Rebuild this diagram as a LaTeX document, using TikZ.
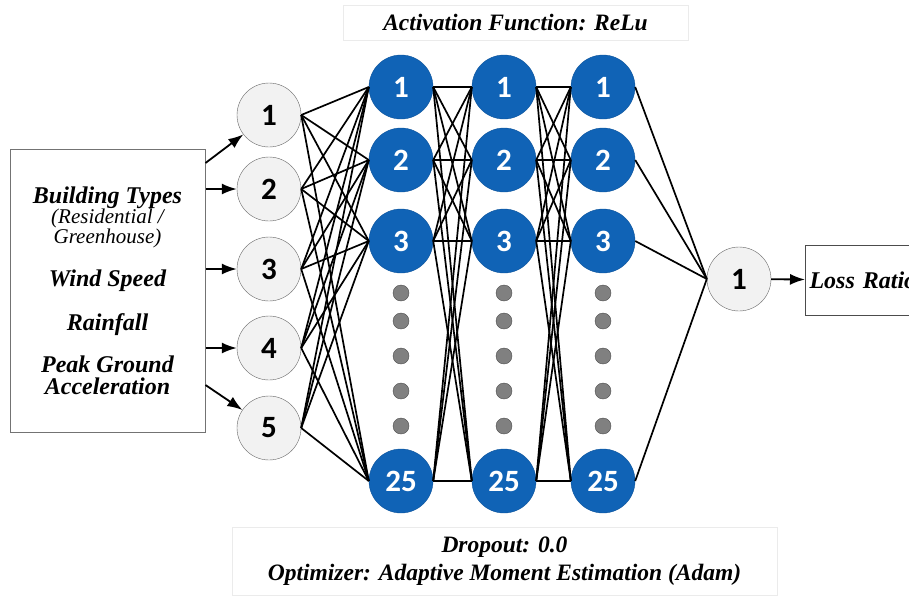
\documentclass[tikz,border=0pt]{standalone}
\usepackage{fontspec}
\setmainfont{Liberation Serif}
\newfontfamily\numfont{Carlito}
\usetikzlibrary{arrows.meta}
\definecolor{nnblue}{RGB}{16,99,182}
\definecolor{nnlight}{RGB}{242,242,242}
\definecolor{nndot}{RGB}{128,128,128}

\begin{document}
\begin{tikzpicture}[x=1pt,y=-1pt,>={Latex[length=15pt,width=11pt]},
  innode/.style={shape=circle,draw=black!60,fill=nnlight,minimum size=64pt,inner sep=0pt,
    font=\numfont\bfseries\fontsize{31}{31}\selectfont},
  hidnode/.style={shape=circle,draw=nnblue!85!black,fill=nnblue,text=white,minimum size=64pt,
    inner sep=0pt,font=\numfont\bfseries\fontsize{31}{31}\selectfont},
  gapdot/.style={shape=circle,draw=black!70,fill=nndot,minimum size=16pt,inner sep=0pt},
  txtbox/.style={draw=black!8,align=center,inner sep=0pt,
    font=\bfseries\itshape\fontsize{23.5}{23}\selectfont},
  link/.style={line width=1.7pt},
  feed/.style={->,line width=1.8pt}]
\useasboundingbox (0,0) rectangle (909,595);

% boxes
\node (inbox) at (107.5,290.5) [draw=black!55,line width=1pt,minimum width=195pt,minimum height=283pt,
  align=center,inner sep=0pt,font=\bfseries\itshape\fontsize{24}{22}\selectfont]
  {Building Types\\[-2pt]{\mdseries\fontsize{21}{22}\selectfont (Residential /}\\[-2pt]%
   {\mdseries\fontsize{21}{22}\selectfont Greenhouse)}\\[21pt]Wind Speed\\[21pt]Rainfall\\[20pt]%
   Peak Ground\\[0pt]Acceleration};
\node (act) at (515.5,22.5) [txtbox,minimum width=345pt,minimum height=35pt] {Activation Function: ReLu};
\node (opt) at (504.5,561) [txtbox,minimum width=545pt,minimum height=68pt]
  {Dropout: 0.0\\[5pt]Optimizer: Adaptive Moment Estimation (Adam)};
\node (loss) at (805,280) [draw=black!70,line width=1pt,anchor=west,minimum width=130pt,minimum height=70pt,
  inner sep=4pt,font=\bfseries\itshape\fontsize{24}{24}\selectfont,text width=122pt] {Loss Ratio};

% input layer
\node (i1) at (269,115) [innode] {1};
\node (i2) at (269,189) [innode] {2};
\node (i3) at (269,269) [innode] {3};
\node (i4) at (269,348) [innode] {4};
\node (i5) at (269,428) [innode] {5};

% hidden layers
\foreach \col/\x in {a/401,b/504,c/603} {
  \node (\col1) at (\x,87) [hidnode] {1};
  \node (\col2) at (\x,160) [hidnode] {2};
  \node (\col3) at (\x,241) [hidnode] {3};
  \node (\col25) at (\x,481) [hidnode] {25};
  \foreach \y [count=\k] in {293,321,356,391,426}
    \node (\col d\k) at (\x,\y) [gapdot] {};
}

% output layer
\node (o1) at (739,279) [innode] {1};

% arrows into the network
\draw [feed] (inbox.east |- 0,163) -- (i1);
\draw [feed] (inbox.east |- i2) -- (i2);
\draw [feed] (inbox.east |- i3) -- (i3);
\draw [feed] (inbox.east |- i4) -- (i4);
\draw [feed] (inbox.east |- 0,385) -- (i5);
\draw [feed] (o1) -- (loss);

% links
\foreach \i in {1,...,5}
  \foreach \j in {1,2,3,25}
    \draw [link] (i\i.east) -- (a\j.west);
\foreach \i in {1,2,3,25}
  \foreach \j in {1,2,3,25} {
    \draw [link] (a\i.east) -- (b\j.west);
    \draw [link] (b\i.east) -- (c\j.west);
  }
\foreach \i in {1,2,3,25}
  \draw [link] (c\i.east) -- (o1.west);
\end{tikzpicture}
\end{document}
